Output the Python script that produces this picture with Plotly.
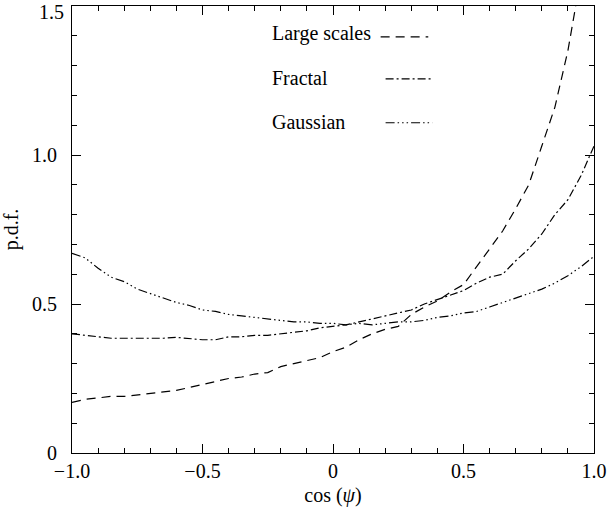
import plotly.graph_objects as go

# ---- data ----
x_vals = [-1.0, -0.95, -0.9, -0.85, -0.8, -0.75, -0.7, -0.65, -0.6, -0.55, -0.5,
          -0.45, -0.4, -0.35, -0.3, -0.25, -0.2, -0.15, -0.1, -0.05, 0.0,
          0.05, 0.1, 0.15, 0.2, 0.25, 0.3, 0.35, 0.4, 0.45, 0.5,
          0.55, 0.6, 0.65, 0.7, 0.75, 0.8, 0.85, 0.9, 0.95, 1.0]

large_x = x_vals[:39] + [0.93]
large_scales = [0.17, 0.18, 0.185, 0.19, 0.19, 0.195, 0.20, 0.205, 0.21, 0.22, 0.23,
                0.24, 0.25, 0.255, 0.265, 0.27, 0.29, 0.30, 0.31, 0.32, 0.34,
                0.355, 0.38, 0.40, 0.415, 0.425, 0.465, 0.49, 0.51, 0.54, 0.565,
                0.625, 0.685, 0.745, 0.82, 0.90, 1.03, 1.16, 1.35, 1.5]

fractal = [0.40, 0.395, 0.39, 0.385, 0.385, 0.385, 0.385, 0.385, 0.388, 0.385, 0.38,
           0.38, 0.39, 0.39, 0.395, 0.395, 0.40, 0.405, 0.41, 0.42, 0.425,
           0.43, 0.44, 0.45, 0.46, 0.47, 0.48, 0.50, 0.515, 0.53, 0.545,
           0.57, 0.59, 0.60, 0.645, 0.685, 0.735, 0.80, 0.85, 0.93, 1.03]

gaussian = [0.67, 0.655, 0.62, 0.59, 0.575, 0.55, 0.535, 0.52, 0.505, 0.495, 0.48,
            0.475, 0.465, 0.46, 0.455, 0.45, 0.445, 0.44, 0.44, 0.435, 0.435,
            0.43, 0.435, 0.43, 0.435, 0.44, 0.44, 0.445, 0.455, 0.46, 0.47,
            0.475, 0.49, 0.505, 0.52, 0.535, 0.55, 0.57, 0.595, 0.625, 0.66]

series_names = ["Large scales", "Fractal", "Gaussian"]
x_tickvals = [-1.0, -0.5, 0.0, 0.5, 1.0]
x_ticktext = ["\u22121.0", "\u22120.5", "0", "0.5", "1.0"]
y_tickvals = [0.0, 0.5, 1.0, 1.5]
y_ticktext = ["0", "0.5", "1.0", "1.5"]

# ---- styles ----
FONT = "Liberation Serif"
dashes = {
    "Large scales": "9px,6px",
    "Fractal": "8px,3px,2px,3px",
    "Gaussian": "9px,3px,1.5px,3px,1.5px,3px,1.5px,3px",
}

fig = go.Figure()
for name, xs, ys in [("Large scales", large_x, large_scales),
                     ("Fractal", x_vals, fractal),
                     ("Gaussian", x_vals, gaussian)]:
    fig.add_trace(go.Scatter(x=xs, y=ys, mode="lines", name=name,
                             line=dict(color="black", width=1.2, dash=dashes[name]),
                             showlegend=False))

# plot area in pixels (for legend placement)
L, R, T, B = 72, 14, 5, 61
W, H = 612, 514
pw, ph = W - L - R, H - T - B

def px(xp):
    return (xp - L) / pw

def py(yp):
    return (H - B - yp) / ph

legend_rows = [("Large scales", 33, 36, 383, 431),
               ("Fractal", 77, 78, 388, 435),
               ("Gaussian", 121, 122, 388, 435)]
for name, ty, ly, lx0, lx1 in legend_rows:
    fig.add_annotation(x=px(272), y=py(ty), xref="paper", yref="paper",
                       text=name, showarrow=False, xanchor="left", yanchor="middle",
                       font=dict(family=FONT, size=20, color="black"))
    fig.add_shape(type="line", xref="paper", yref="paper",
                  x0=px(lx0), x1=px(lx1), y0=py(ly), y1=py(ly),
                  line=dict(color="black", width=1.2, dash=dashes[name]))

# top y tick label drawn just below the frame corner, as in the reference
y_labels_shown = [t if v < 1.5 else "" for v, t in zip(y_tickvals, y_ticktext)]
fig.add_annotation(x=0, y=y_tickvals[-1], xref="paper", yref="y",
                   text=y_ticktext[-1], showarrow=False, xanchor="right", yanchor="middle",
                   xshift=-6, yshift=-6,
                   font=dict(family=FONT, size=20, color="black"))

axis_common = dict(
    showline=True, linecolor="black", linewidth=1, mirror="ticks",
    ticks="inside", tickwidth=1.2, tickcolor="black",
    showgrid=False, zeroline=False,
    tickfont=dict(family=FONT, size=20, color="black"),
)
minor_ticks = dict(ticks="inside", ticklen=5, tickwidth=1.2, tickmode="linear", tick0=0,
                   dtick=0.1, tickcolor="black", showgrid=False)

fig.update_layout(
    xaxis=dict(range=[-1, 1], tickmode="array", tickvals=x_tickvals, ticktext=x_ticktext,
               ticklen=9, minor=minor_ticks,
               title=dict(text="cos (<i>\u03c8</i>)", font=dict(family=FONT, size=20, color="black"),
                          standoff=6),
               **axis_common),
    yaxis=dict(range=[0, 1.5], tickmode="array", tickvals=y_tickvals,
               ticktext=[t + "\u2002" if t else t for t in y_labels_shown],
               ticklen=9, minor=minor_ticks,
               title=dict(text="p.d.f.", font=dict(family=FONT, size=20, color="black"),
                          standoff=8),
               **axis_common),
)

fig.update_layout(width=W, height=H, margin=dict(l=L, r=R, t=T, b=B),
                  plot_bgcolor="white", paper_bgcolor="white",
                  font=dict(family=FONT, size=20, color="black"))

fig.write_html("out.html")
